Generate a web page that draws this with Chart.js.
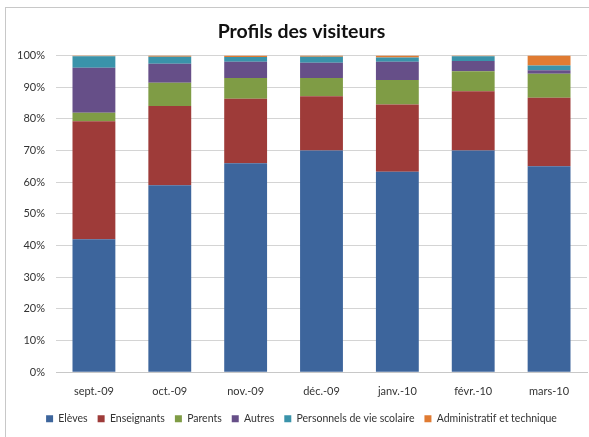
<!DOCTYPE html>
<html>
<head>
<meta charset="utf-8">
<script src="https://cdn.jsdelivr.net/npm/chart.js@4"></script>
<style>
  body { margin: 0; background: #fff; overflow: hidden; }
  #box {
    position: absolute; left: 5px; top: 7px;
    width: 600px; height: 440px;
    border: 1px solid #c8c8c8;
    box-sizing: border-box;
  }
  #chart { display: block; }
</style>
</head>
<body>
<div id="box"><canvas id="chart" width="598" height="438"></canvas></div>
<script>
const months = ['sept.-09', 'oct.-09', 'nov.-09', 'déc.-09', 'janv.-10', 'févr.-10', 'mars-10'];

// share of visitors (%) per month
const eleves      = [42.0, 59.0, 66.0, 70.0, 63.3, 70.0, 65.0];
const enseignants = [37.2, 25.0, 20.3, 17.1, 21.2, 18.7, 21.6];
const parents     = [2.7, 7.4, 6.6, 5.8, 7.7, 6.3, 7.6];
const autres      = [14.2, 6.0, 5.1, 4.8, 5.8, 3.2, 1.1];
const personnels  = [3.6, 2.2, 1.5, 1.9, 1.3, 1.5, 1.5];
const admin       = [0.3, 0.4, 0.5, 0.4, 0.7, 0.3, 3.2];

const font = 'Lato, "Open Sans", sans-serif';

function serie(label, data, color) {
    return {
        label: label,
        data: data,
        backgroundColor: color,
        borderColor: color,
        borderWidth: 0,
        barPercentage: 0.565,
        categoryPercentage: 1
    };
}

const ctx = document.getElementById('chart').getContext('2d');
const myChart = new Chart(ctx, {
    type: 'bar',
    data: {
        labels: months,
        datasets: [
            serie('Elèves', eleves, '#3d659c'),
            serie('Enseignants', enseignants, '#9e3b39'),
            serie('Parents', parents, '#7f9c45'),
            serie('Autres', autres, '#664f88'),
            serie('Personnels de vie scolaire', personnels, '#3a93aa'),
            serie('Administratif et technique', admin, '#e07b32')
        ]
    },
    options: {
        responsive: false,
        animation: false,
        layout: { padding: { left: 10, right: 17, top: 0, bottom: 12 } },
        plugins: {
            title: {
                display: true,
                text: 'Profils des visiteurs',
                color: '#111',
                font: { family: font, size: 19.5, weight: 'bold' },
                padding: { top: 12, bottom: 12 }
            },
            legend: {
                position: 'bottom',
                labels: {
                    boxWidth: 7,
                    boxHeight: 7,
                    padding: 10,
                    color: '#333',
                    font: { family: font, size: 10.5 }
                }
            },
            tooltip: { enabled: false }
        },
        scales: {
            x: {
                stacked: true,
                grid: { display: false },
                border: { color: '#c8c8c8' },
                ticks: {
                    color: '#333',
                    padding: 5,
                    font: { family: font, size: 11 }
                }
            },
            y: {
                stacked: true,
                min: 0,
                max: 100,
                afterFit: function(scale) { scale.width = 40; },
                grid: { color: '#d4d4d4', drawTicks: false },
                border: { display: false },
                ticks: {
                    stepSize: 10,
                    padding: 11,
                    color: '#333',
                    font: { family: font, size: 11 },
                    callback: function(value) { return value + '%'; }
                }
            }
        }
    }
});
</script>
</body>
</html>
